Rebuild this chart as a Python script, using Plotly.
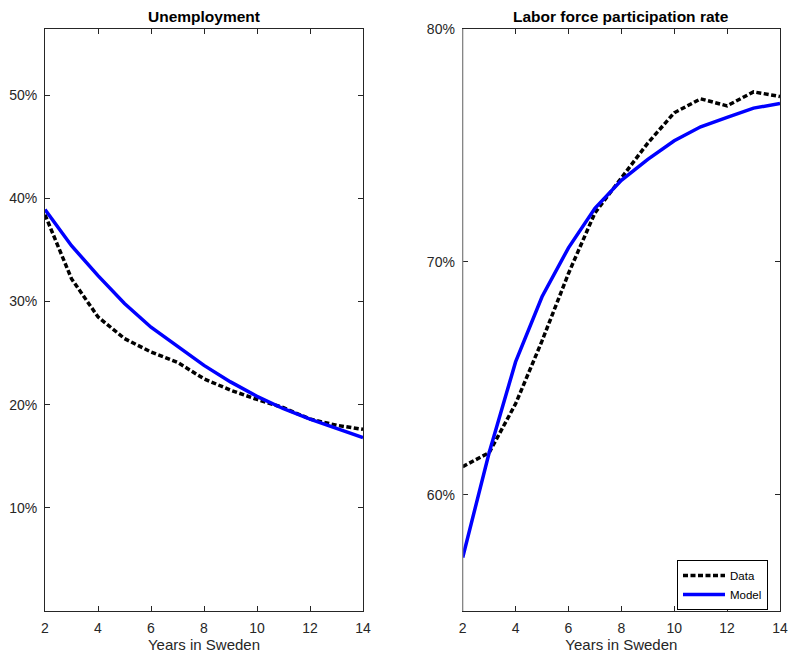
import plotly.graph_objects as go
from plotly.subplots import make_subplots

years = [2, 3, 4, 5, 6, 7, 8, 9, 10, 11, 12, 13, 14]
unemp_data = [0.384, 0.322, 0.285, 0.264, 0.251, 0.241, 0.225, 0.214, 0.205, 0.197, 0.186, 0.180, 0.176]
unemp_model = [0.389, 0.354, 0.325, 0.298, 0.275, 0.256, 0.238, 0.222, 0.208, 0.196, 0.186, 0.177, 0.168]
lfp_data = [0.612, 0.618, 0.639, 0.666, 0.695, 0.721, 0.736, 0.751, 0.764, 0.770, 0.767, 0.773, 0.771]
lfp_model = [0.573, 0.618, 0.657, 0.685, 0.706, 0.723, 0.735, 0.744, 0.752, 0.758, 0.762, 0.766, 0.768]

unemp_ticks = [0.1, 0.2, 0.3, 0.4, 0.5]
unemp_ticklabels = ["10%", "20%", "30%", "40%", "50%"]
lfp_ticks = [0.6, 0.7, 0.8]
lfp_ticklabels = ["60%", "70%", "80%"]
x_ticks = [2, 4, 6, 8, 10, 12, 14]

W, H = 788, 655
FONT = "Liberation Sans, Arial, Helvetica, sans-serif"
DARK = "#262626"

fig = make_subplots(rows=1, cols=2)

dash = "5px,2.5px"
fig.add_trace(go.Scatter(x=years, y=unemp_data, mode="lines", name="Data",
                         line=dict(color="black", width=3.5, dash=dash), showlegend=False), row=1, col=1)
fig.add_trace(go.Scatter(x=years, y=unemp_model, mode="lines", name="Model",
                         line=dict(color="#0000ff", width=3.5), showlegend=False), row=1, col=1)
fig.add_trace(go.Scatter(x=years, y=lfp_data, mode="lines", name="Data",
                         line=dict(color="black", width=3.5, dash=dash)), row=1, col=2)
fig.add_trace(go.Scatter(x=years, y=lfp_model, mode="lines", name="Model",
                         line=dict(color="#0000ff", width=3.5)), row=1, col=2)

ydom = [1 - 611 / H, 1 - 29 / H]
xdom1 = [45 / W, 363 / W]
xdom2 = [462.7 / W, 780 / W]

axcommon = dict(showline=True, mirror="ticks", linecolor=DARK, linewidth=1,
                ticks="inside", ticklen=5, tickcolor=DARK, showgrid=False, zeroline=False,
                automargin=False, ticklabelstandoff=4,
                tickfont=dict(family=FONT, size=14, color=DARK))

fig.update_xaxes(**axcommon, range=[2, 14], tickvals=x_ticks,
                 title=dict(text="Years in Sweden", font=dict(family=FONT, size=15, color=DARK), standoff=2))
fig.update_layout(
    xaxis=dict(domain=xdom1),
    xaxis2=dict(domain=xdom2),
    yaxis=dict(domain=ydom, range=[0, 0.564], tickvals=unemp_ticks, ticktext=unemp_ticklabels, **axcommon),
    yaxis2=dict(domain=ydom, range=[0.55, 0.80], tickvals=lfp_ticks, ticktext=lfp_ticklabels, **axcommon),
)

# lighter left spine of right panel, as in the reference
fig.add_shape(type="line", xref="paper", yref="paper", x0=xdom2[0], x1=xdom2[0],
              y0=ydom[0], y1=ydom[1], line=dict(color="#8c8c8c", width=1.3), layer="above")

fig.add_annotation(text="<b>Unemployment</b>", x=(xdom1[0] + xdom1[1]) / 2, y=1 - 17 / H,
                   xref="paper", yref="paper", showarrow=False, xanchor="center", yanchor="middle",
                   font=dict(family=FONT, size=15.5, color="black"))
fig.add_annotation(text="<b>Labor force participation rate</b>", x=(xdom2[0] + xdom2[1]) / 2, y=1 - 17 / H,
                   xref="paper", yref="paper", showarrow=False, xanchor="center", yanchor="middle",
                   font=dict(family=FONT, size=15.5, color="black"))

fig.update_layout(
    width=W, height=H,
    margin=dict(l=0, r=0, t=0, b=0, autoexpand=False),
    paper_bgcolor="white", plot_bgcolor="white",
    legend=dict(x=768 / W, y=1 - 560 / H, xanchor="right", yanchor="top",
                bordercolor="black", borderwidth=1, bgcolor="white",
                font=dict(family=FONT, size=11.5, color="black"),
                tracegroupgap=0, itemwidth=42),
)

fig.write_html("out.html", config={"displayModeBar": False},
               post_script="document.body.style.margin='0';document.body.style.padding='0';")
